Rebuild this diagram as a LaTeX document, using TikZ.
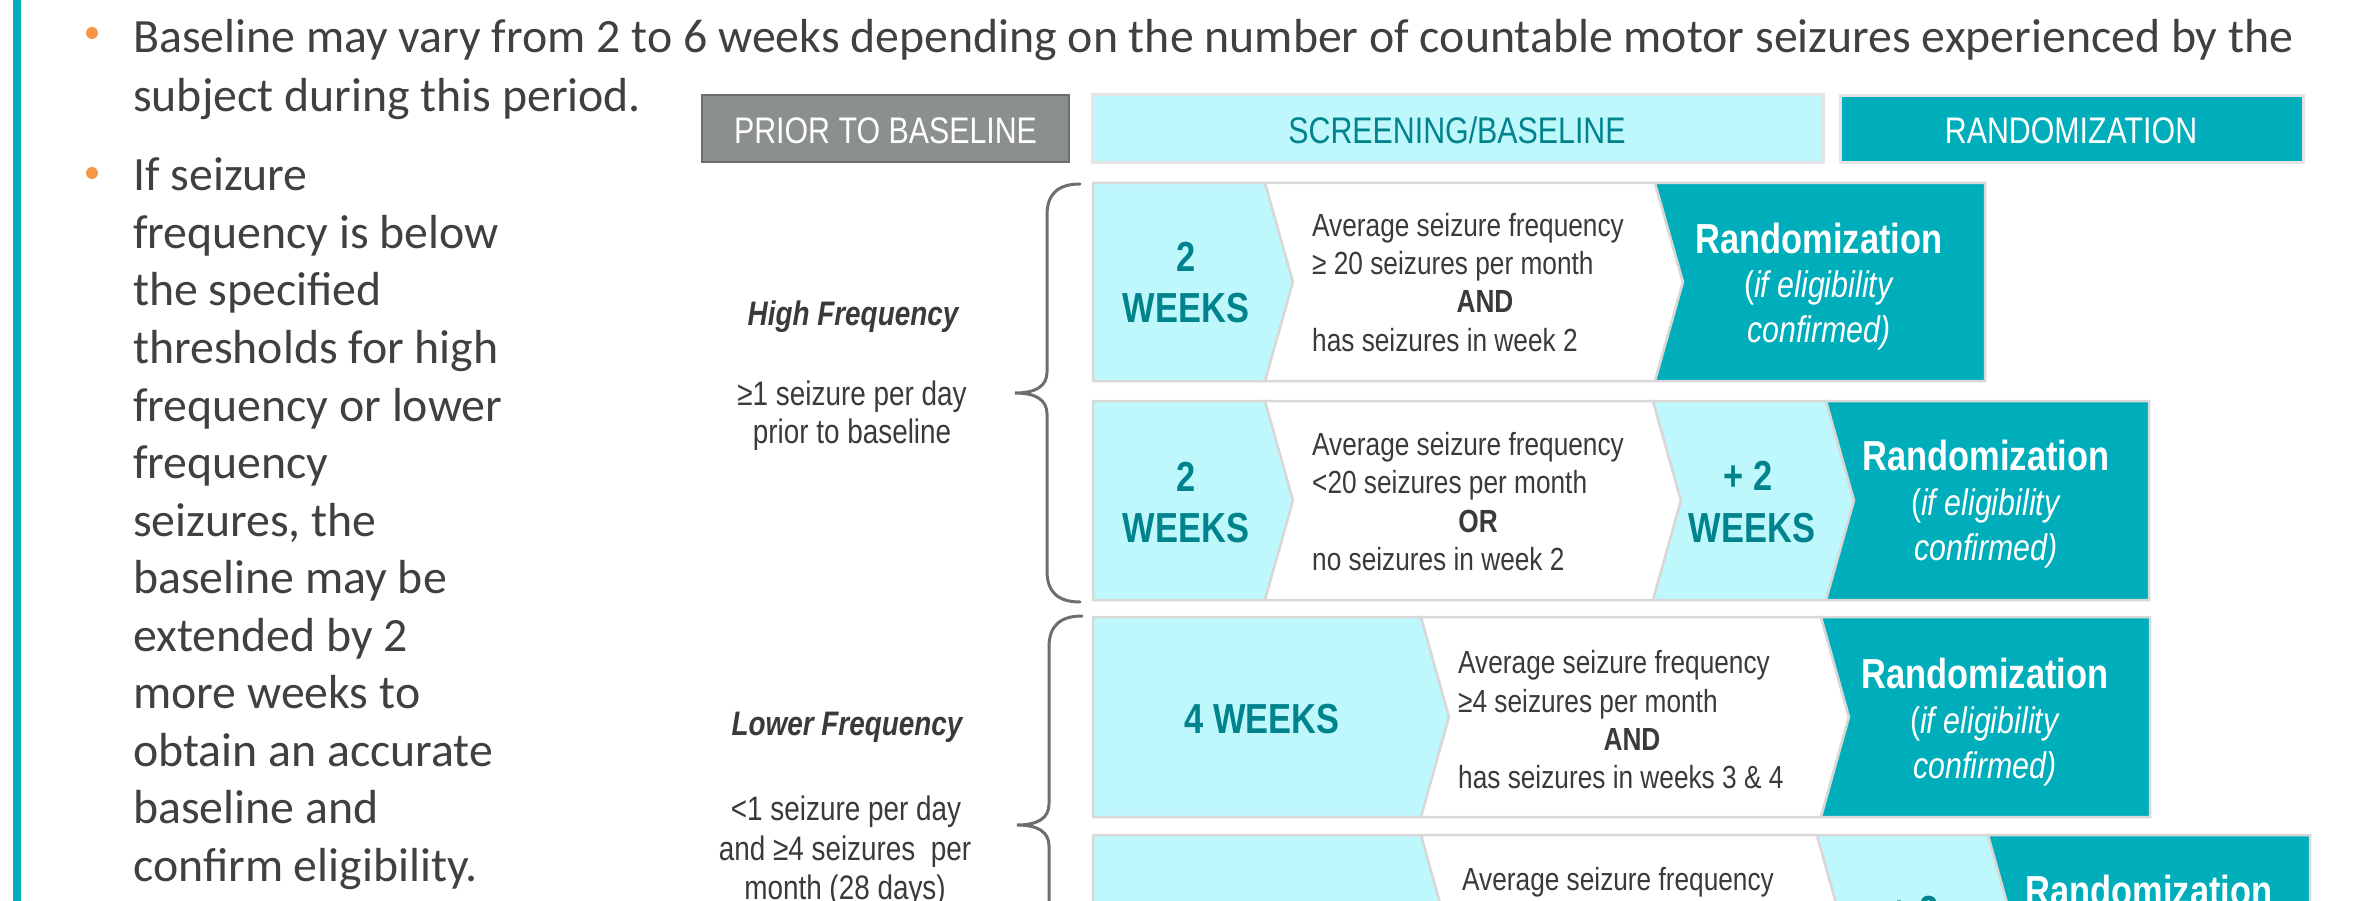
\documentclass[tikz,border=0pt]{standalone}
\usepackage{fontspec}
\setmainfont{Carlito}
\newfontfamily\nar[FakeStretch=0.82]{Liberation Sans}
\definecolor{bodytext}{HTML}{404040}
\definecolor{labeltext}{HTML}{3A3A3A}
\definecolor{cyanL}{HTML}{BEF8FC}
\definecolor{tealM}{HTML}{00AEBB}
\definecolor{tealD}{HTML}{00838C}
\definecolor{grayhdr}{HTML}{8C8F90}
\definecolor{grayhdrb}{HTML}{6C6F71}
\definecolor{segb}{HTML}{D8D8D8}
\definecolor{hdrb}{HTML}{E4E4E4}
\definecolor{bracec}{HTML}{6D6E71}
\definecolor{orangeB}{HTML}{F79646}
\begin{document}
\begin{tikzpicture}[x=1pt,y=-1pt,
  body/.style={anchor=base west, inner sep=0pt, font=\fontsize{47.8}{57}\selectfont, text=bodytext},
  lbl/.style={anchor=base, inner sep=0pt, font=\nar\fontsize{34}{40}\selectfont, text=labeltext},
  lblh/.style={anchor=base, inner sep=0pt, font=\nar\bfseries\itshape\fontsize{34}{40}\selectfont, text=labeltext},
  wtxt/.style={anchor=base west, inner sep=0pt, font=\nar\fontsize{32}{38}\selectfont, text=labeltext},
  wbold/.style={anchor=base, inner sep=0pt, font=\nar\bfseries\fontsize{32}{38}\selectfont, text=labeltext},
  wk/.style={anchor=base, inner sep=0pt, font=\nar\bfseries\fontsize{42}{50}\selectfont, text=tealD},
  rnd/.style={anchor=base, inner sep=0pt, font=\nar\bfseries\fontsize{42}{50}\selectfont, text=white},
  elig/.style={anchor=base, inner sep=0pt, font=\nar\fontsize{37}{44}\selectfont, text=white},
  hdr/.style={anchor=base, inner sep=0pt, font=\nar\fontsize{37}{44}\selectfont},
  seg/.style={draw=segb, line width=2.5pt, line join=miter},
  bracestyle/.style={draw=bracec, line width=3pt, line cap=round}
]
\useasboundingbox (0,0) rectangle (2359,901);
\clip (0,0) rectangle (2359,901);
\fill[white] (0,0) rectangle (2359,901);

% left teal bar
\fill[tealM] (13,0) rectangle (21,901);

% bullets
\fill[orangeB] (92,33) circle (6);
\fill[orangeB] (92,173) circle (6);

% body text
\node[body] (b1a) at (133,53) {Baseline may vary from 2 to 6 weeks depending on the number of countable motor seizures experienced by the};
\node[body] (b1b) at (133,112) {subject during this period.};
\node[body] (b2a) at (133,191) {If seizure};
\node[body] (b2b) at (133,248.5) {frequency is below};
\node[body] (b2c) at (133,306) {the specified};
\node[body] (b2d) at (133,363.5) {thresholds for high};
\node[body] (b2e) at (133,421) {frequency or lower};
\node[body] (b2f) at (133,478.5) {frequency};
\node[body] (b2g) at (133,536) {seizures, the};
\node[body] (b2h) at (133,593.5) {baseline may be};
\node[body] (b2i) at (133,651) {extended by 2};
\node[body] (b2j) at (133,708.5) {more weeks to};
\node[body] (b2k) at (133,766) {obtain an accurate};
\node[body] (b2l) at (133,823.5) {baseline and};
\node[body] (b2m) at (133,881) {confirm eligibility.};

% header boxes
\filldraw[fill=grayhdr, draw=grayhdrb, line width=2.5pt] (702,95) rectangle (1069,162);
\filldraw[fill=cyanL, draw=hdrb, line width=3pt] (1092,95) rectangle (1823,163);
\filldraw[fill=tealM, draw=hdrb, line width=3pt] (1840,96) rectangle (2303,163);
\node[hdr, text=white] (hprior) at (885.5,144) {PRIOR TO BASELINE};
\node[hdr, text=tealD] (hscreen) at (1457,144) {SCREENING/BASELINE};
\node[hdr, text=white] (hrand) at (2071,144) {RANDOMIZATION};

% ---- Row 1 (183-381, mid 282)
\filldraw[seg, fill=cyanL] (1093,183) -- (1265,183) -- (1293,282) -- (1265,381) -- (1093,381) -- cycle;
\filldraw[seg, fill=white] (1265,183) -- (1655,183) -- (1683,282) -- (1655,381) -- (1265,381) -- (1293,282) -- cycle;
\filldraw[seg, fill=tealM] (1655,183) -- (1985,183) -- (1985,381) -- (1655,381) -- (1683,282) -- cycle;
\node[wk] (r1w1) at (1186,272) {2};
\node[wk] (r1w2) at (1186,323) {WEEKS};
\node[wtxt] (r1t1) at (1312,237) {Average seizure frequency};
\node[wtxt] (r1t2) at (1312,275) {≥ 20 seizures per month};
\node[wbold] (r1t3) at (1485,313) {AND};
\node[wtxt] (r1t4) at (1312,352) {has seizures in week 2};
\node[rnd] (r1r1) at (1819,254) {Randomization};
\node[elig] (r1r2) at (1819,298) {(\textit{if eligibility}};
\node[elig] (r1r3) at (1819,343) {\textit{confirmed)}};

% ---- Row 2 (401-600, mid 500.5)
\filldraw[seg, fill=cyanL] (1093,401) -- (1265,401) -- (1293,500.5) -- (1265,600) -- (1093,600) -- cycle;
\filldraw[seg, fill=white] (1265,401) -- (1653,401) -- (1681,500.5) -- (1653,600) -- (1265,600) -- (1293,500.5) -- cycle;
\filldraw[seg, fill=cyanL] (1653,401) -- (1826,401) -- (1854,500.5) -- (1826,600) -- (1653,600) -- (1681,500.5) -- cycle;
\filldraw[seg, fill=tealM] (1826,401) -- (2149,401) -- (2149,600) -- (1826,600) -- (1854,500.5) -- cycle;
\node[wk] (r2w1) at (1186,491) {2};
\node[wk] (r2w2) at (1186,542) {WEEKS};
\node[wtxt] (r2t1) at (1312,455) {Average seizure frequency};
\node[wtxt] (r2t2) at (1312,493) {<20 seizures per month};
\node[wbold] (r2t3) at (1478,532) {OR};
\node[wtxt] (r2t4) at (1312,570) {no seizures in week 2};
\node[wk] (r2p1) at (1748,490) {+ 2};
\node[wk] (r2p2) at (1752,542) {WEEKS};
\node[rnd] (r2r1) at (1986,470) {Randomization};
\node[elig] (r2r2) at (1986,515) {(\textit{if eligibility}};
\node[elig] (r2r3) at (1986,560) {\textit{confirmed)}};

% ---- Row 3 (617-817, mid 717)
\filldraw[seg, fill=cyanL] (1093,617) -- (1421,617) -- (1449,717) -- (1421,817) -- (1093,817) -- cycle;
\filldraw[seg, fill=white] (1421,617) -- (1821,617) -- (1849,717) -- (1821,817) -- (1421,817) -- (1449,717) -- cycle;
\filldraw[seg, fill=tealM] (1821,617) -- (2150,617) -- (2150,817) -- (1821,817) -- (1849,717) -- cycle;
\node[wk] (r3w1) at (1262,733) {4 WEEKS};
\node[wtxt] (r3t1) at (1458,673) {Average seizure frequency};
\node[wtxt] (r3t2) at (1458,712) {≥4 seizures per month};
\node[wbold] (r3t3) at (1632,750) {AND};
\node[wtxt] (r3t4) at (1458,788) {has seizures in weeks 3 \& 4};
\node[rnd] (r3r1) at (1985,688) {Randomization};
\node[elig] (r3r2) at (1985,733) {(\textit{if eligibility}};
\node[elig] (r3r3) at (1985,778) {\textit{confirmed)}};

% ---- Row 4 (835-1035, mid 935)
\filldraw[seg, fill=cyanL] (1093,835) -- (1421,835) -- (1449,935) -- (1421,1035) -- (1093,1035) -- cycle;
\filldraw[seg, fill=white] (1421,835) -- (1817,835) -- (1845,935) -- (1817,1035) -- (1421,1035) -- (1449,935) -- cycle;
\filldraw[seg, fill=cyanL] (1817,835) -- (1988,835) -- (2016,935) -- (1988,1035) -- (1817,1035) -- (1845,935) -- cycle;
\filldraw[seg, fill=tealM] (1988,835) -- (2310,835) -- (2310,1035) -- (1988,1035) -- (2016,935) -- cycle;
\node[wtxt] (r4t1) at (1462,890) {Average seizure frequency};
\node[wk] (r4p1) at (1914,925) {+ 2};
\node[rnd] (r4r1) at (2149,905) {Randomization};

% left labels
\node[lblh] (lhigh) at (853,326) {High Frequency};
\node[lbl] (lhigh1) at (852,405) {≥1 seizure per day};
\node[lbl] (lhigh2) at (852,443) {prior to baseline};
\node[lblh] (llow) at (847,735) {Lower Frequency};
\node[lbl] (llow1) at (846,820) {<1 seizure per day};
\node[lbl] (llow2) at (845,860) {and ≥4 seizures\ \ per};
\node[lbl] (llow3) at (845,899) {month (28 days)};

% braces
\draw[bracestyle] (1080,184) .. controls (1058,184) and (1047,194) .. (1047,215) -- (1047,372)
  .. controls (1047,386) and (1036,393) .. (1015,393)
  .. controls (1036,393) and (1047,400) .. (1047,414) -- (1047,571)
  .. controls (1047,592) and (1058,602) .. (1080,602);
\draw[bracestyle] (1082,616) .. controls (1060,616) and (1049,626) .. (1049,647) -- (1049,804)
  .. controls (1049,818) and (1038,825) .. (1017,825)
  .. controls (1038,825) and (1049,832) .. (1049,846) -- (1049,1003)
  .. controls (1049,1024) and (1060,1035) .. (1082,1035);
\end{tikzpicture}
\end{document}
